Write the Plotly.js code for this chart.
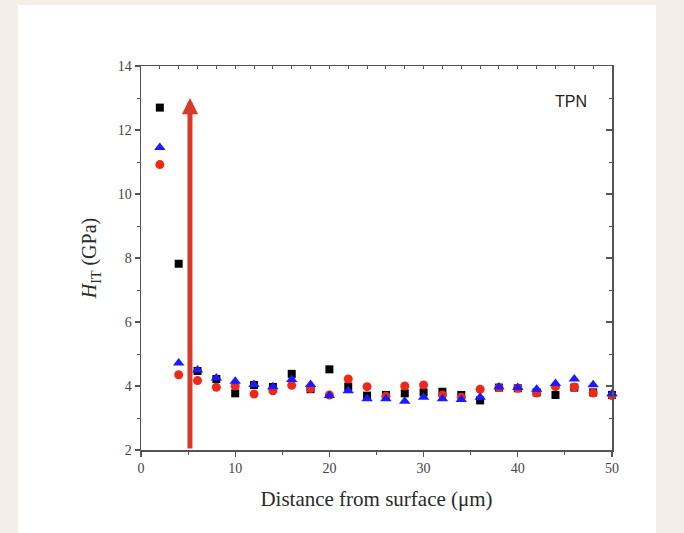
<!DOCTYPE html>
<html>
<head>
<meta charset="utf-8">
<script src="https://cdn.plot.ly/plotly-3.0.1.min.js"></script>
<style>
  html, body { margin: 0; padding: 0; width: 684px; height: 533px; background: #f3efe6; overflow: hidden; }
  #chart { position: absolute; left: 18px; top: 5px; width: 638px; height: 528px; }
</style>
</head>
<body>
<div id="chart"></div>
<script>
// Distance from surface (µm)
var distance = [2, 4, 6, 8, 10, 12, 14, 16, 18, 20, 22, 24, 26, 28, 30, 32, 34, 36, 38, 40, 42, 44, 46, 48, 50];
// Hardness H_IT (GPa), three series (black squares, red circles, blue triangles)
var hardnessSquares = [12.7, 7.82, 4.47, 4.22, 3.77, 4.03, 3.97, 4.38, 3.90, 4.52, 3.98, 3.70, 3.72, 3.77, 3.80, 3.82, 3.72, 3.55, 3.95, 3.93, 3.80, 3.72, 3.95, 3.80, 3.72];
var hardnessCircles = [10.92, 4.35, 4.17, 3.96, 4.00, 3.75, 3.85, 4.02, 3.92, 3.72, 4.22, 3.98, 3.68, 4.00, 4.03, 3.72, 3.65, 3.90, 3.95, 3.93, 3.78, 3.98, 3.97, 3.78, 3.70];
var hardnessTriangles = [11.45, 4.72, 4.50, 4.25, 4.15, 4.05, 3.98, 4.20, 4.05, 3.70, 3.85, 3.60, 3.60, 3.52, 3.65, 3.60, 3.58, 3.65, 3.97, 3.95, 3.90, 4.08, 4.22, 4.04, 3.76];
// Red arrow marking the case depth
var arrowX = [5.2];
var arrowFromY = [2];
var arrowToY = [13];
var panelLabel = 'TPN';

var axisColor = '#555555';
var tickFont = { family: 'Liberation Serif, Times New Roman, serif', size: 14, color: '#444444' };
var xTitleFont = { family: 'Liberation Serif, Times New Roman, serif', size: 21, color: '#2a2a2a' };
var yTitleFont = { family: 'Liberation Serif, Times New Roman, serif', size: 20, color: '#2a2a2a' };

var traces = [
  { x: distance, y: hardnessSquares, type: 'scatter', mode: 'markers', cliponaxis: false,
    marker: { symbol: 'square', size: 8, color: '#000000' }, showlegend: false },
  { x: distance, y: hardnessCircles, type: 'scatter', mode: 'markers', cliponaxis: false,
    marker: { symbol: 'circle', size: 9, color: '#f0281a' }, showlegend: false },
  { x: distance, y: hardnessTriangles, type: 'scatter', mode: 'markers', cliponaxis: false,
    marker: { symbol: 'triangle-up', size: 10, color: '#1a1aff' }, showlegend: false },
  { x: [], y: [], xaxis: 'x2', yaxis: 'y2', type: 'scatter', mode: 'markers', showlegend: false, hoverinfo: 'skip' }
];

var layout = {
  width: 638, height: 528,
  margin: { l: 123, r: 44, t: 61, b: 83 },
  paper_bgcolor: '#ffffff',
  plot_bgcolor: '#ffffff',
  showlegend: false,
  xaxis: {
    range: [0, 50], dtick: 10, tick0: 0,
    showgrid: false, zeroline: false,
    showline: true, linecolor: axisColor, linewidth: 1.5,
    ticks: 'outside', ticklen: 5, tickwidth: 1.2, tickcolor: axisColor,
    minor: { dtick: 5, ticks: 'outside', ticklen: 3, tickwidth: 1, tickcolor: axisColor, showgrid: false },
    tickfont: tickFont,
    title: { text: 'Distance from surface (μm)', standoff: 16, font: xTitleFont }
  },
  yaxis: {
    range: [2, 14], dtick: 2, tick0: 2,
    showgrid: false, zeroline: false,
    showline: true, linecolor: axisColor, linewidth: 1.5,
    ticks: 'outside', ticklen: 5, tickwidth: 1.2, tickcolor: axisColor,
    minor: { dtick: 1, ticks: 'outside', ticklen: 3, tickwidth: 1, tickcolor: axisColor, showgrid: false },
    tickfont: tickFont,
    title: { text: '<i>H</i><sub>IT</sub> (GPa)', standoff: 15, font: yTitleFont }
  },
  xaxis2: {
    overlaying: 'x', side: 'top', range: [0, 50], dtick: 2, tick0: 0,
    showgrid: false, zeroline: false, showticklabels: false,
    showline: true, linecolor: axisColor, linewidth: 1.5,
    ticks: 'inside', ticklen: 3, tickwidth: 1, tickcolor: axisColor
  },
  yaxis2: {
    overlaying: 'y', side: 'right', range: [2, 14], dtick: 2, tick0: 2,
    showgrid: false, zeroline: false, showticklabels: false,
    showline: true, linecolor: axisColor, linewidth: 1.5,
    ticks: 'inside', ticklen: 6, tickwidth: 1.2, tickcolor: axisColor,
    minor: { dtick: 1, ticks: 'inside', ticklen: 3, tickwidth: 1, tickcolor: axisColor, showgrid: false }
  },
  annotations: [
    { x: arrowX[0], y: arrowToY[0], xref: 'x', yref: 'y',
      ax: arrowX[0], ay: arrowFromY[0], axref: 'x', ayref: 'y',
      showarrow: true, arrowhead: 2, arrowsize: 0.65, arrowwidth: 5, arrowcolor: '#d83a28',
      standoff: 0, startstandoff: 0, text: '' },
    { x: 0.952, y: 0.935, xref: 'paper', yref: 'paper', text: panelLabel, showarrow: false,
      font: { family: 'Liberation Sans, Arial, sans-serif', size: 16, color: '#222222' } }
  ]
};

Plotly.newPlot('chart', traces, layout, { displayModeBar: false, staticPlot: true });
</script>
</body>
</html>
